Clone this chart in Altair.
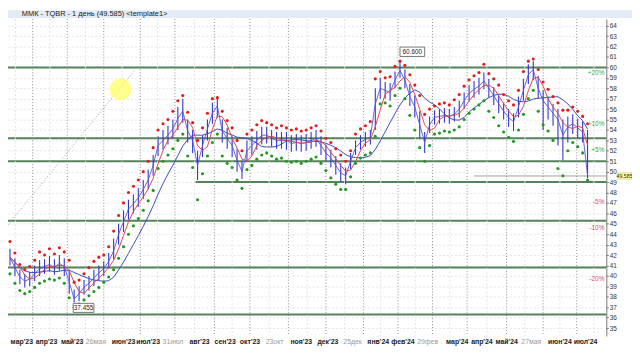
import altair as alt
import pandas as pd

# ---------------- data ----------------
# sample index (one sample ~ every 3 trading days)
day = list(range(1, 119))

close = [
    41.8, 40.8, 39.9, 39.5, 39.7, 40.2, 40.7, 40.9, 41.1, 40.8,
    41.2, 40.9, 39.4, 37.8, 38.3, 38.9, 39.3, 39.8, 40.3, 40.7,
    41.4, 42.4, 44.0, 45.2, 46.4, 46.9, 47.5, 48.3, 49.2, 50.6,
    52.5, 53.0, 53.5, 54.1, 55.1, 55.8, 53.9, 53.0, 50.6, 52.5,
    54.1, 55.6, 56.3, 53.9, 53.2, 52.5, 51.1, 50.0, 52.0, 52.5,
    53.0, 53.5, 53.5, 53.2, 53.0, 53.0, 53.0, 52.7, 52.8, 52.7,
    52.8, 53.0, 53.2, 52.5, 51.8, 51.3, 50.6, 49.9, 49.6, 51.0,
    52.3, 52.8, 53.1, 53.3, 56.5, 58.0, 57.8, 57.6, 58.8, 59.7,
    58.8, 57.2, 56.2, 54.5, 52.8, 54.5, 55.2, 55.3, 55.4, 55.3,
    55.5, 56.0, 56.8, 57.5, 57.9, 58.2, 58.7, 58.0, 57.3, 56.5,
    55.8, 55.2, 54.8, 56.2, 57.8, 59.3, 59.8, 58.0, 56.8, 56.2,
    55.6, 55.0, 53.5, 54.3, 54.6, 54.2, 53.8, 49.585]

high = [
    42.6, 41.7, 40.6, 40.2, 40.4, 41.0, 41.5, 41.6, 41.9, 41.6,
    42.0, 41.7, 40.6, 38.7, 39.0, 39.6, 40.0, 40.6, 41.0, 41.4,
    42.2, 43.6, 45.0, 46.3, 47.3, 47.8, 48.4, 49.2, 50.2, 51.6,
    53.4, 54.0, 54.4, 55.0, 56.2, 57.0, 55.0, 54.0, 52.0, 53.5,
    55.0, 56.6, 57.1, 55.0, 54.2, 53.4, 52.2, 51.0, 53.0, 53.4,
    53.9, 54.3, 54.3, 54.0, 53.8, 53.8, 53.8, 53.5, 53.6, 53.5,
    53.6, 53.8, 54.0, 53.4, 52.6, 52.1, 51.5, 50.8, 50.4, 51.8,
    53.0, 53.5, 53.8, 54.0, 58.0, 59.0, 58.6, 58.5, 59.6, 60.6,
    59.8, 58.4, 57.3, 55.8, 53.8, 55.3, 55.9, 56.0, 56.1, 56.0,
    56.2, 56.8, 57.6, 58.3, 58.7, 59.0, 59.5, 58.9, 58.1, 57.4,
    56.6, 56.0, 55.6, 57.2, 58.9, 60.3, 60.6, 59.2, 57.8, 57.2,
    56.5, 56.0, 55.0, 55.3, 55.5, 55.1, 54.8, 54.0]

low = [
    41.0, 40.0, 39.2, 38.9, 39.0, 39.5, 40.0, 40.2, 40.4, 40.1,
    40.5, 40.0, 38.3, 37.455, 37.6, 38.2, 38.6, 39.0, 39.6, 40.0,
    40.7, 41.6, 43.0, 44.2, 45.4, 46.0, 46.6, 47.4, 48.3, 49.6,
    51.5, 52.1, 52.6, 53.2, 54.0, 54.7, 52.8, 51.8, 49.2, 51.4,
    53.0, 54.6, 55.2, 52.8, 52.2, 51.4, 50.0, 49.3, 51.0, 51.6,
    52.1, 52.6, 52.7, 52.4, 52.2, 52.2, 52.1, 51.9, 52.0, 51.9,
    52.0, 52.2, 52.4, 51.6, 51.0, 50.4, 49.7, 49.0, 48.8, 50.2,
    51.6, 52.1, 52.4, 52.6, 54.0, 57.0, 57.0, 56.8, 58.0, 59.0,
    58.0, 56.3, 55.2, 53.2, 51.8, 53.7, 54.5, 54.6, 54.7, 54.6,
    54.8, 55.2, 56.0, 56.7, 57.1, 57.4, 57.9, 57.1, 56.4, 55.6,
    55.0, 54.3, 53.9, 55.2, 56.8, 58.4, 58.8, 57.0, 54.0, 55.0,
    54.4, 52.5, 51.1, 52.8, 53.6, 53.2, 52.8, 49.4]

red_dots = [
    43.3, 42.2, 41.1, 40.6, 40.9, 41.5, 42.3, 42.0, 42.6, 42.1,
    42.7, 42.3, 41.5, 39.4, 39.6, 40.2, 40.8, 41.4, 41.8, 42.0,
    42.8, 44.3, 45.8, 47.0, 48.0, 48.6, 49.2, 50.0, 51.0, 52.3,
    54.0, 54.6, 55.0, 55.8, 56.8, 57.3, 55.7, 54.7, 53.0, 54.2,
    55.6, 57.0, 57.1, 55.8, 54.9, 54.2, 53.0, 52.0, 53.6, 54.0,
    54.5, 54.9, 54.7, 54.5, 54.2, 54.4, 54.2, 54.0, 54.1, 53.9,
    54.0, 54.2, 54.4, 53.9, 53.2, 52.8, 52.2, 51.6, 51.0, 52.0,
    53.6, 54.1, 54.4, 54.8, 58.9, 59.6, 59.0, 59.1, 60.1, 60.6,
    60.2, 59.3, 58.3, 57.3, 55.5, 56.0, 56.3, 56.5, 56.6, 56.4,
    56.9, 57.4, 58.2, 58.8, 59.2, 59.5, 60.3, 59.4, 58.9, 58.3,
    57.4, 56.8, 56.4, 57.8, 59.6, 60.6, 60.8, 59.8, 58.6, 57.9,
    57.2, 56.6, 55.9, 55.9, 56.2, 55.8, 55.3, 54.6]

green_dots = [
    40.2, 39.3, 38.6, 38.3, 38.5, 38.9, 39.3, 39.5, 39.7, 39.6,
    39.8, 39.3, 37.9, 37.0, 37.3, 37.7, 38.1, 38.5, 38.9, 39.4,
    39.9, 40.6, 41.7, 42.8, 44.0, 44.8, 45.5, 46.3, 47.2, 48.2,
    50.3, 51.0, 51.6, 52.2, 53.0, 53.6, 51.5, 50.4, 47.3, 49.8,
    51.5, 52.8, 53.6, 51.5, 50.8, 50.4, 49.2, 48.4, 50.2, 50.6,
    51.2, 51.6, 51.8, 51.5, 51.2, 51.3, 51.0, 50.9, 51.0, 50.8,
    51.0, 51.2, 51.4, 50.8, 50.1, 49.4, 48.8, 48.3, 48.3, 49.5,
    50.8, 51.3, 51.6, 51.8, 53.4, 56.5, 56.6, 56.3, 57.3, 58.0,
    57.0, 55.4, 54.0, 52.3, 51.0, 52.5, 53.6, 53.7, 53.9, 53.8,
    54.0, 54.3, 55.0, 55.6, 56.0, 56.4, 56.8, 55.8, 55.2, 54.4,
    53.8, 53.3, 52.9, 54.0, 55.5, 57.0, 57.8, 55.8, 54.5, 53.9,
    53.0, 50.3, 49.6, 52.0, 52.8, 52.4, 51.8, 49.2]

for arr in (close, high, low, red_dots, green_dots):
    assert len(arr) == len(day), len(arr)

# support / resistance levels
levels = [60.0, 53.2, 51.0, 49.0, 45.3, 40.8, 36.3]
level_from = [0.6, 0.6, 0.6, 38.6, 0.6, 0.6, 0.6]

# percent labels relative to last price
pct_text = ["+20%", "+10%", "+5%", "-5%", "-10%", "-20%"]
pct_level = [59.5, 54.54, 52.06, 47.11, 44.63, 39.67]
pct_kind = ["up", "up", "up", "down", "down", "down"]

# x tick labels
x_tick_pos = [3.4, 8.4, 13.6, 18.4, 24.0, 29.0, 34.0, 39.4, 44.6, 49.6, 54.6, 60.0,
              65.4, 70.4, 75.6, 80.6, 85.6, 91.6, 96.6, 101.6, 106.6, 112.4, 117.6]
x_tick_text = ["мар'23", "апр'23", "май'23", "26мая", "июн'23", "июл'23", "31июл",
               "авг'23", "сен'23", "окт'23", "23окт", "ноя'23", "дек'23", "25дек",
               "янв'24", "фев'24", "29фев", "мар'24", "апр'24", "май'24", "27мая",
               "июн'24", "июл'24"]
x_tick_kind = ["m", "m", "m", "d", "m", "m", "d", "m", "m", "m", "d", "m", "m", "d",
               "m", "m", "d", "m", "m", "m", "d", "m", "m"]

# vertical grid
grid_major = [5.6, 12.6, 20.0, 27.4, 34.4, 42.4, 49.6, 57.4, 65.0, 72.6, 79.6,
              86.6, 93.6, 101.6, 109.0, 115.8]
grid_minor = [2.1, 9.1, 16.3, 23.7, 30.9, 38.4, 46.0, 53.5, 61.2, 68.8, 76.1,
              83.1, 90.1, 97.6, 105.3, 112.4, 119.3]

y_ticks = list(range(35, 65))

# annotations
trend_x = [0.6, 26.4]
trend_y = [44.9, 59.8]
note_text = ["60.600", "37.455"]
note_x0 = [80.0, 13.8]
note_x1 = [85.0, 18.0]
note_y0 = [61.05, 36.5]
note_y1 = [61.95, 37.37]
last_price = 49.585
last_line_from = 95.0
cursor_x = [23.4]
cursor_y = [57.9]

# ---------------- chart ----------------
W, H = 606, 321
FONT = "Liberation Sans"
xs = alt.Scale(domain=[0.6, 121.8], nice=False, zero=False)
ys = alt.Scale(domain=[34.24, 64.64], nice=False, zero=False)

yaxis = alt.Axis(orient="right", values=y_ticks, labelFontSize=6.5, labelFont=FONT,
                 labelColor="#333333", labelPadding=1, tickSize=2, tickColor="#777777",
                 domainColor="#777777", grid=True, gridColor="#e6e6e6",
                 gridDash=[2, 2], title=None, labelFlush=False, labelOverlap=False)


def Y(field):
    return alt.Y(field, scale=ys, axis=yaxis)


df = pd.DataFrame(dict(day=day, close=close, high=high, low=low,
                       red=red_dots, green=green_dots))
X = alt.X("day:Q", scale=xs, axis=None)

grid_major_l = alt.Chart(pd.DataFrame({"g": grid_major})).mark_rule(
    color="#8c8c8c", strokeDash=[1, 2], strokeWidth=1
).encode(x=alt.X("g:Q", scale=xs, axis=None))
grid_minor_l = alt.Chart(pd.DataFrame({"g": grid_minor})).mark_rule(
    color="#e2e2e2", strokeDash=[2, 2], strokeWidth=1
).encode(x=alt.X("g:Q", scale=xs, axis=None))

lev_df = pd.DataFrame(dict(level=levels, x0=level_from, x1=[121.8] * len(levels)))
level_l = alt.Chart(lev_df).mark_rule(color="#56825a", strokeWidth=2).encode(
    x=alt.X("x0:Q", scale=xs, axis=None), x2="x1:Q", y=Y("level:Q"))

trend_l = alt.Chart(pd.DataFrame(dict(tx=trend_x, ty=trend_y))).mark_line(
    color="#9a9a9a", strokeDash=[1, 2], strokeWidth=1
).encode(x=alt.X("tx:Q", scale=xs, axis=None), y=Y("ty:Q"))

cursor_l = alt.Chart(pd.DataFrame(dict(cx=cursor_x, cy=cursor_y))).mark_circle(
    color="#ffff66", size=480, opacity=0.75
).encode(x=alt.X("cx:Q", scale=xs, axis=None), y=Y("cy:Q"))

lastline_l = alt.Chart(pd.DataFrame(dict(p=[last_price], a=[last_line_from], b=[121.8]))).mark_rule(
    color="#a0a0a0", strokeWidth=1
).encode(x=alt.X("a:Q", scale=xs, axis=None), x2="b:Q", y=Y("p:Q"))

base = alt.Chart(df)
bars = base.mark_rule(color="#3434d0", strokeWidth=1.1).encode(
    x=X, y=Y("low:Q"), y2="high:Q")
close_l = base.mark_line(color="#5a50d6", strokeWidth=0.9).encode(x=X, y=Y("close:Q"))
ma_fast = base.transform_window(ma="mean(close)", frame=[-2, 0], sort=[{"field": "day"}]).mark_line(
    color="#e04848", strokeWidth=1).encode(x=X, y=Y("ma:Q"))
ma_slow = base.transform_window(ma="mean(close)", frame=[-8, 0], sort=[{"field": "day"}]).mark_line(
    color="#3a4cc0", strokeWidth=1).encode(x=X, y=Y("ma:Q"))
red_l = base.mark_circle(color="#e01c1c", size=10, opacity=1).encode(x=X, y=Y("red:Q"))
green_l = base.mark_circle(color="#1f9a1f", size=10, opacity=1).encode(x=X, y=Y("green:Q"))

note_df = pd.DataFrame(dict(t=note_text, x0=note_x0, x1=note_x1, y0=note_y0, y1=note_y1))
note_box = alt.Chart(note_df).mark_rect(fill="white", stroke="#555555", strokeWidth=0.8).encode(
    x=alt.X("x0:Q", scale=xs, axis=None), x2="x1:Q", y=Y("y0:Q"), y2="y1:Q")
note_txt = alt.Chart(note_df).transform_calculate(
    xm="(datum.x0 + datum.x1) / 2", ym="(datum.y0 + datum.y1) / 2"
).mark_text(fontSize=6.5, font=FONT, color="#222222").encode(
    x=alt.X("xm:Q", scale=xs, axis=None), y=Y("ym:Q"), text="t:N")

pct_df = pd.DataFrame(dict(t=pct_text, v=pct_level, k=pct_kind))
pct_l = alt.Chart(pct_df).mark_text(fontSize=6.5, font=FONT, align="right", baseline="middle").encode(
    x=alt.value(W - 2), y=Y("v:Q"), text="t:N",
    color=alt.Color("k:N", scale=alt.Scale(domain=["up", "down"], range=["#3aa63a", "#d84a6a"]),
                    legend=None))

tag_df = pd.DataFrame(dict(p=[last_price], lo=[last_price - 0.3], hi=[last_price + 0.3],
                           t=[f"{last_price:.3f}"]))
tag_box = alt.Chart(tag_df).mark_rect(fill="#ffff9c", stroke="#c8c860", strokeWidth=0.6).encode(
    x=alt.value(W + 11), x2=alt.value(W + 26), y=Y("lo:Q"), y2="hi:Q")
tag_txt = alt.Chart(tag_df).mark_text(fontSize=5.3, font=FONT, color="#222222").encode(
    x=alt.value(W + 18.5), y=Y("p:Q"), text="t:N")

xt_df = pd.DataFrame(dict(pos=x_tick_pos, t=x_tick_text, k=x_tick_kind))
xt_month = alt.Chart(xt_df).transform_filter("datum.k == 'm'").mark_text(
    fontSize=7, font=FONT, fontWeight="bold", color="#222222", baseline="middle").encode(
    x=alt.X("pos:Q", scale=xs, axis=None), y=alt.value(H + 6), text="t:N")
xt_date = alt.Chart(xt_df).transform_filter("datum.k == 'd'").mark_text(
    fontSize=7, font=FONT, color="#9a9a9a", baseline="middle").encode(
    x=alt.X("pos:Q", scale=xs, axis=None), y=alt.value(H + 6), text="t:N")

title_df = pd.DataFrame(dict(t=["ММК - TQBR - 1 день (49.585) <template1>"]))
title_band = alt.Chart(title_df).mark_rect(color="#e3ebf6").encode(
    x=alt.value(0), x2=alt.value(W + 26), y=alt.value(-9), y2=alt.value(-1))
title_txt = alt.Chart(title_df).mark_text(fontSize=7.5, font=FONT, align="left",
                                          baseline="middle", color="#1a1a1a").encode(
    x=alt.value(14), y=alt.value(-5), text="t:N")

chart = alt.layer(
    level_l, grid_minor_l, grid_major_l, trend_l, cursor_l, lastline_l,
    bars, close_l, ma_slow, ma_fast, red_l, green_l,
    note_box, note_txt, pct_l, tag_box, tag_txt, xt_month, xt_date,
    title_band, title_txt
).properties(
    width=W, height=H,
    autosize=alt.AutoSizeParams(type="none"),
    padding={"left": 0, "top": 9, "right": 26, "bottom": 8},
    background="white"
).configure_view(stroke=None)

chart.save("out.html", embed_options={"renderer": "svg", "actions": False})
